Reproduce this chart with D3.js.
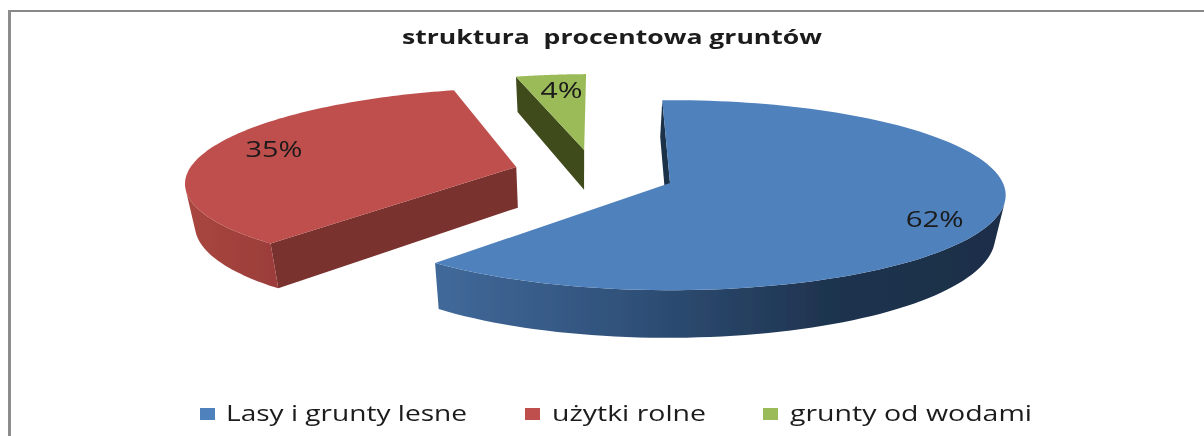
<!DOCTYPE html>
<html><head><meta charset="utf-8">
<script src="https://cdn.jsdelivr.net/npm/d3@7/dist/d3.min.js"></script>
<style>html,body{margin:0;padding:0;background:#fff}svg{display:block}text{font-family:"Open Sans",sans-serif;fill:#1a1a1a;white-space:pre}</style>
</head><body><div id="c"></div>
<script>
const title = "struktura  procentowa gruntów";
const categories = ["Lasy i grunty lesne", "użytki rolne", "grunty od wodami"];
const values = [62, 35, 4];
const labels = ["62%", "35%", "4%"];
const topColors = ["#4f81bd", "#bf504d", "#9bbb59"];
const radialWallColors = ["#1c3048", "#7a302e", "#3f4b1f"];

// layout
const W = 1204, H = 436, cx = 670, cy = 183, rx = 338, k = 94.9, p = 0.13;
const depth = 41.5, vanishX = 580, shrink = 0.025, R = 0.985;
const explode = [[0, 0], [-0.465, -0.172], [-0.266, -0.364]];
const labelShift = [7, 3, 1], labelR = [0.83, 0.79, 0.765];
const labelW = [58, 57, 42];
const legendX = [200, 525, 763], legendTextX = [226, 552, 790], legendTextW = [241, 154, 242];

const svg = d3.select("#c").append("svg").attr("width", W).attr("height", H);
const defs = svg.append("defs");
defs.append("filter").attr("id", "soft").append("feGaussianBlur").attr("stdDeviation", 0.45);

function grad(id, x1, x2, stops) {
  const g = defs.append("linearGradient").attr("id", id).attr("gradientUnits", "userSpaceOnUse")
    .attr("x1", x1).attr("x2", x2).attr("y1", 0).attr("y2", 0);
  stops.forEach(s => g.append("stop").attr("offset", s[0]).attr("stop-color", s[1]));
}
grad("wall0", 438, 1004, [[0, "#41699a"], [0.35, "#2f5078"], [0.68, "#1f3450"], [1, "#1b2e47"]]);
grad("wall1", 188, 280, [[0, "#a8463f"], [1, "#9b3d3a"]]);
grad("wall2", 518, 585, [[0, "#3f4b1f"], [1, "#3f4b1f"]]);

// frame
const frame = svg.append("g");
frame.append("rect").attr("x", 8).attr("y", 10).attr("width", W - 8).attr("height", 2).attr("fill", "#888");
frame.append("rect").attr("x", 8).attr("y", 10).attr("width", 3).attr("height", H - 10).attr("fill", "#8c8c8c");

// perspective projection of the disc plane
const proj = (u, v) => { const f = 1 / (1 - p * v); return [cx + u * rx * f, cy + v * k * f, f]; };
const top3 = (u, v) => { const q = proj(u, v); return [q[0], q[1]]; };
const low3 = (u, v) => { const q = proj(u, v); return [q[0] + (vanishX - q[0]) * shrink, q[1] + depth * q[2]]; };

const pie = d3.pie().sort(null).value(d => d)
  .startAngle(-1.5 * Math.PI / 180).endAngle((360 - 1.5) * Math.PI / 180);
const arcs = pie(values);
const line = d3.line();

const chart = svg.append("g").attr("filter", "url(#soft)");
[2, 1, 0].forEach(i => {
  const a = arcs[i], off = explode[i];
  const P = (t, r) => [off[0] + r * Math.sin(t), off[1] - r * Math.cos(t)];
  const ang = d3.range(0, 121).map(d3.scaleLinear().domain([0, 120]).range([a.startAngle, a.endAngle]));
  const g = chart.append("g");
  const outerTop = ang.map(t => top3(...P(t, R)));
  const outerLow = ang.map(t => low3(...P(t, R)));
  // the one radial wall that faces the viewer
  const t0 = a.startAngle;
  g.append("path").attr("d", line([top3(...P(t0, R)), low3(...P(t0, R)), low3(...P(t0, 0)), top3(...P(t0, 0))]) + "Z")
    .attr("fill", radialWallColors[i]);
  // outer wall: front-facing quads merged into a single path, so there are no seams
  const quads = d3.range(ang.length - 1)
    .map(s => [outerTop[s], outerTop[s + 1], outerLow[s + 1], outerLow[s]])
    .filter(q => d3.polygonArea(q) > 0);
  if (quads.length) g.append("path").attr("d", quads.map(q => line(q) + "Z").join(""))
    .attr("fill", `url(#wall${i})`);
  // top surface
  g.append("path").attr("d", line([top3(...P(0, 0))].concat(outerTop)) + "Z").attr("fill", topColors[i]);
});

// data labels
const lab = svg.append("g").attr("filter", "url(#soft)");
arcs.forEach((a, i) => {
  const t = (a.startAngle + a.endAngle) / 2 + labelShift[i] * Math.PI / 180;
  const q = top3(explode[i][0] + labelR[i] * Math.sin(t), explode[i][1] - labelR[i] * Math.cos(t));
  lab.append("text").attr("x", q[0] - labelW[i] / 2).attr("y", q[1] + 8)
    .attr("font-size", 22).attr("textLength", labelW[i]).attr("lengthAdjust", "spacingAndGlyphs").text(labels[i]);
});

// title
svg.append("text").attr("x", 402).attr("y", 44).attr("font-weight", "bold")
  .attr("font-size", 20).attr("textLength", 420).attr("lengthAdjust", "spacingAndGlyphs")
  .attr("filter", "url(#soft)").text(title);

// legend
const leg = svg.append("g").attr("filter", "url(#soft)");
categories.forEach((c, i) => {
  leg.append("rect").attr("x", legendX[i]).attr("y", 408).attr("width", 15).attr("height", 12).attr("fill", topColors[i]);
  leg.append("text").attr("x", legendTextX[i]).attr("y", 421).attr("font-size", 22)
    .attr("textLength", legendTextW[i]).attr("lengthAdjust", "spacingAndGlyphs").text(c);
});
</script></body></html>
